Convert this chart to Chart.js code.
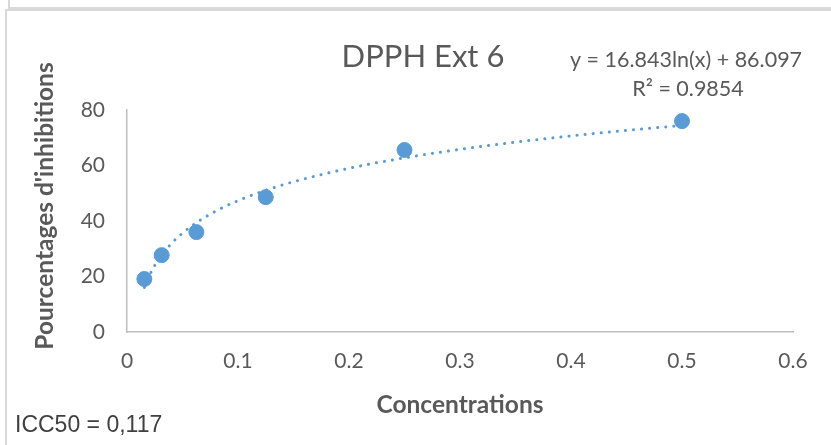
<!DOCTYPE html>
<html>
<head>
<meta charset="utf-8">
<script src="https://cdn.jsdelivr.net/npm/chart.js@4.4.1/dist/chart.umd.min.js"></script>
<style>
  html, body { margin: 0; padding: 0; background: #ffffff; }
  #wrap { position: relative; width: 831px; height: 445px; overflow: hidden; }
  #topbox { position: absolute; left: 8px; top: -10px; width: 840px; height: 15px; border: 2px solid #D9D9D9; }
  #chartbox { position: absolute; left: 5px; top: 9px; width: 840px; height: 460px; border: 2px solid #D9D9D9; }
  canvas { position: absolute; left: 0; top: 0; }
</style>
</head>
<body>
<div id="wrap">
  <div id="topbox"></div>
  <div id="chartbox"></div>
  <canvas id="c" width="831" height="445"></canvas>
</div>
<script>
// ---- data ----
const concentrations = [0.015625, 0.03125, 0.0625, 0.125, 0.25, 0.5];
const inhibitions = [19.1, 27.7, 36.0, 48.6, 65.6, 76.0];

// logarithmic trendline as drawn in the reference (sampled along the curve)
const trendX = [0.015625, 0.02, 0.025, 0.03125, 0.04, 0.05, 0.0625, 0.08, 0.1, 0.125, 0.15, 0.2, 0.25, 0.3, 0.35, 0.4, 0.45, 0.5];
const trendY = [16.05, 20.21, 23.96, 27.72, 31.88, 35.64, 39.40, 43.56, 47.31, 51.07, 54.14, 58.99, 62.75, 65.82, 68.41, 70.66, 72.65, 74.42];

const xTickLabels = ['0', '0.1', '0.2', '0.3', '0.4', '0.5', '0.6'];
const yTickLabels = ['0', '20', '40', '60', '80'];

const chartTitle = 'DPPH Ext 6';
const equationText = 'y = 16.843ln(x) + 86.097';
const r2Text = 'R² = 0.9854';
const xAxisTitle = 'Concentrations';
const yAxisTitle = "Pourcentages d'inhibitions";
const noteText = 'ICC50 = 0,117';

const BLUE = '#5B9BD5';
const TEXT = '#595959';

const textPlugin = {
  id: 'textPlugin',
  afterDraw(chart) {
    const ctx = chart.ctx;
    const a = chart.chartArea;
    ctx.save();
    ctx.fillStyle = TEXT;
    ctx.textAlign = 'center';
    ctx.textBaseline = 'alphabetic';
    ctx.font = '31px Lato';
    ctx.fillText(chartTitle, 423, 67);
    ctx.font = '21.5px Lato';
    ctx.fillText(equationText, 686, 67);
    ctx.fillText(r2Text, 688, 96);
    ctx.font = 'bold 24.5px Lato';
    ctx.fillText(xAxisTitle, (a.left + a.right) / 2, 413);
    ctx.save();
    ctx.translate(53, 206);
    ctx.rotate(-Math.PI / 2);
    ctx.fillText(yAxisTitle, 0, 0);
    ctx.restore();
    ctx.textAlign = 'left';
    ctx.fillStyle = '#404040';
    ctx.font = '23px "Liberation Sans"';
    ctx.fillText(noteText, 15, 432);
    ctx.restore();
  }
};

new Chart(document.getElementById('c'), {
  type: 'scatter',
  data: {
    datasets: [
      {
        label: 'trend',
        data: trendX.map((x, i) => ({ x: x, y: trendY[i] })),
        showLine: true,
        borderColor: BLUE,
        borderWidth: 3,
        borderDash: [0.1, 8],
        borderCapStyle: 'round',
        cubicInterpolationMode: 'monotone',
        pointRadius: 0,
        fill: false,
        order: 0
      },
      {
        label: 'data',
        data: concentrations.map((x, i) => ({ x: x, y: inhibitions[i] })),
        backgroundColor: BLUE,
        borderColor: BLUE,
        borderWidth: 1,
        pointRadius: 7.5,
        order: 1
      }
    ]
  },
  options: {
    responsive: false,
    animation: false,
    events: [],
    layout: { padding: { left: 0, right: 38, top: 110, bottom: 0 } },
    plugins: { legend: { display: false }, tooltip: { enabled: false }, title: { display: false } },
    scales: {
      x: {
        type: 'linear', min: 0, max: 0.6,
        grid: { display: false, drawTicks: false },
        border: { display: true, color: '#BFBFBF', width: 1.5 },
        ticks: {
          stepSize: 0.1, padding: 17, color: TEXT, font: { family: 'Lato', size: 21 },
          callback: (v, i) => xTickLabels[i]
        },
        afterFit: (s) => { s.height = 113; }
      },
      y: {
        type: 'linear', min: 0, max: 80,
        grid: { display: false, drawTicks: false },
        border: { display: true, color: '#BFBFBF', width: 1.5 },
        ticks: {
          stepSize: 20, padding: 22, color: TEXT, font: { family: 'Lato', size: 21 },
          callback: (v, i) => yTickLabels[i]
        },
        afterFit: (s) => { s.width = 127; }
      }
    }
  },
  plugins: [textPlugin]
});
</script>
</body>
</html>
